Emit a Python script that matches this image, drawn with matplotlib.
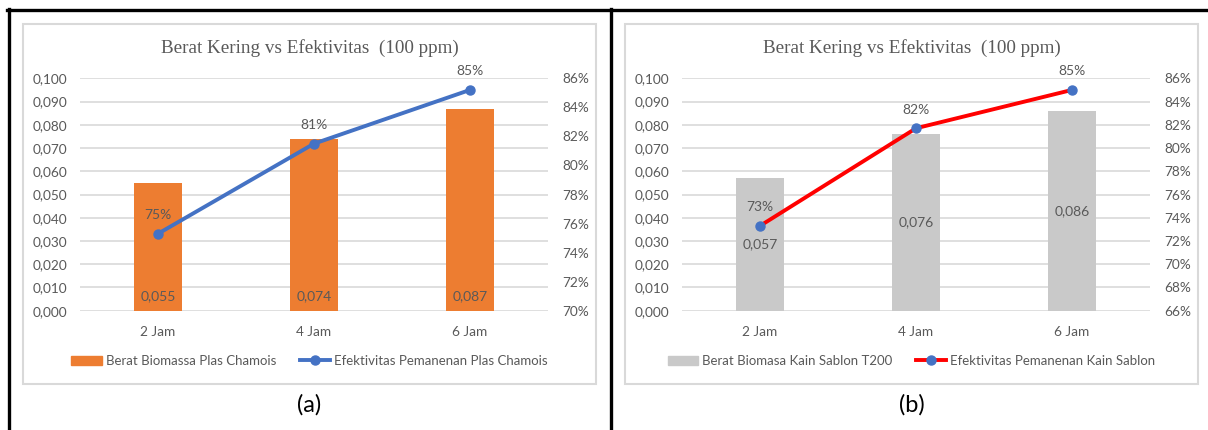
import matplotlib
matplotlib.use("Agg")
import matplotlib.pyplot as plt
from matplotlib.patches import Rectangle, Patch
from matplotlib.lines import Line2D
from matplotlib.ticker import FuncFormatter, MultipleLocator

# data
categories = ["2 Jam", "4 Jam", "6 Jam"]
title = "Berat Kering vs Efektivitas  (100 ppm)"

berat_plas = [0.055, 0.074, 0.087]
efek_plas = [0.753, 0.815, 0.852]
efek_plas_labels = ["75%", "81%", "85%"]

berat_kain = [0.057, 0.076, 0.086]
efek_kain = [0.733, 0.817, 0.850]
efek_kain_labels = ["73%", "82%", "85%"]

W, H = 1208, 430
TXT = "#595959"
GRID = "#D9D9D9"
SANS = ["Lato", "DejaVu Sans"]
SERIF = ["Liberation Serif", "DejaVu Serif"]

plt.rcParams["font.family"] = SANS

fig = plt.figure(figsize=(W / 100, H / 100), dpi=100)


def fx(px):
    return px / W


def fy(py):
    return 1 - py / H


def comma(v, pos=None):
    return f"{v:.3f}".replace(".", ",")


def pct(v, pos=None):
    return f"{round(v * 100):.0f}%"


def panel(off, bars, bar_color, line, line_color, line_labels, rlim,
          bar_names, label_mode, tag):
    # light frame around the chart
    fig.patches.append(Rectangle((fx(23 + off), fy(384)), fx(573), 360 / H,
                                 transform=fig.transFigure, fill=False,
                                 edgecolor="#D9D9D9", lw=1.5))
    ax = fig.add_axes([fx(80 + off), fy(310.7), fx(468), (310.7 - 78.3) / H])
    x = range(len(categories))
    ax.bar(x, bars, width=0.31, color=bar_color, zorder=2)
    ax.set_ylim(0, 0.1)
    ax.set_xlim(-0.5, 2.5)
    ax.yaxis.set_major_locator(MultipleLocator(0.01))
    ax.yaxis.set_major_formatter(FuncFormatter(comma))
    ax.grid(axis="y", color=GRID, lw=1.2, zorder=0)
    ax.set_axisbelow(True)
    ax.set_xticks(list(x))
    ax.set_xticklabels(categories)
    for s in ax.spines.values():
        s.set_visible(False)
    ax.tick_params(length=0, colors=TXT, labelsize=9.8)
    ax.tick_params(axis="y", pad=9)
    ax.tick_params(axis="x", pad=11)

    for i, v in enumerate(bars):
        if label_mode == "base":
            ax.annotate(comma(v), (i, 0), xytext=(0, 10.5),
                        textcoords="offset points", ha="center", va="center",
                        color=TXT, fontsize=10)
        else:
            ax.annotate(comma(v), (i, v / 2), ha="center", va="center",
                        color=TXT, fontsize=10)

    ax2 = ax.twinx()
    ax2.plot(x, line, color=line_color, lw=2.8, marker="o", ms=6.5,
             mfc="#4472C4", mec="#4472C4", zorder=3)
    ax2.set_ylim(*rlim)
    ax2.yaxis.set_major_locator(MultipleLocator(0.02))
    ax2.yaxis.set_major_formatter(FuncFormatter(pct))
    for s in ax2.spines.values():
        s.set_visible(False)
    ax2.tick_params(length=0, colors=TXT, labelsize=9.8, pad=10)
    for i, v in enumerate(line):
        ax2.annotate(line_labels[i], (i, v), xytext=(0, 13.5),
                     textcoords="offset points", ha="center", va="center",
                     color=TXT, fontsize=10)

    cx = 309.5 + off
    fig.text(fx(cx), fy(48), title, ha="center", va="center", color=TXT,
             fontsize=13.8, family=SERIF)
    handles = [Patch(color=bar_color),
               Line2D([], [], color=line_color, lw=2.8, marker="o", ms=6.5,
                      mfc="#4472C4", mec="#4472C4")]
    fig.legend(handles, bar_names, loc="center", ncol=2, frameon=False,
               bbox_to_anchor=(fx(cx), fy(361)), fontsize=9.5,
               labelcolor=TXT, handlelength=2.3, handletextpad=0.3,
               columnspacing=1.8)
    fig.text(fx(cx), fy(405), tag, ha="center", va="center", color="black",
             fontsize=17)


panel(0, berat_plas, "#ED7D31", efek_plas, "#4472C4", efek_plas_labels,
      (0.70, 0.86),
      ["Berat Biomassa Plas Chamois", "Efektivitas Pemanenan Plas Chamois"],
      "base", "(a)")
panel(602, berat_kain, "#C9C9C9", efek_kain, "#FF0000", efek_kain_labels,
      (0.66, 0.86),
      ["Berat Biomasa Kain Sablon T200", "Efektivitas Pemanenan Kain Sablon"],
      "center", "(b)")

# black table frame
for xs, ys in [((7, W), (9.5, 9.5)), ((8.5, 8.5), (9, H)),
               ((610.5, 610.5), (9, H))]:
    fig.add_artist(Line2D([fx(p) for p in xs], [fy(p) for p in ys],
                          transform=fig.transFigure, color="black", lw=2.4))

fig.savefig("out.png", dpi=100)
